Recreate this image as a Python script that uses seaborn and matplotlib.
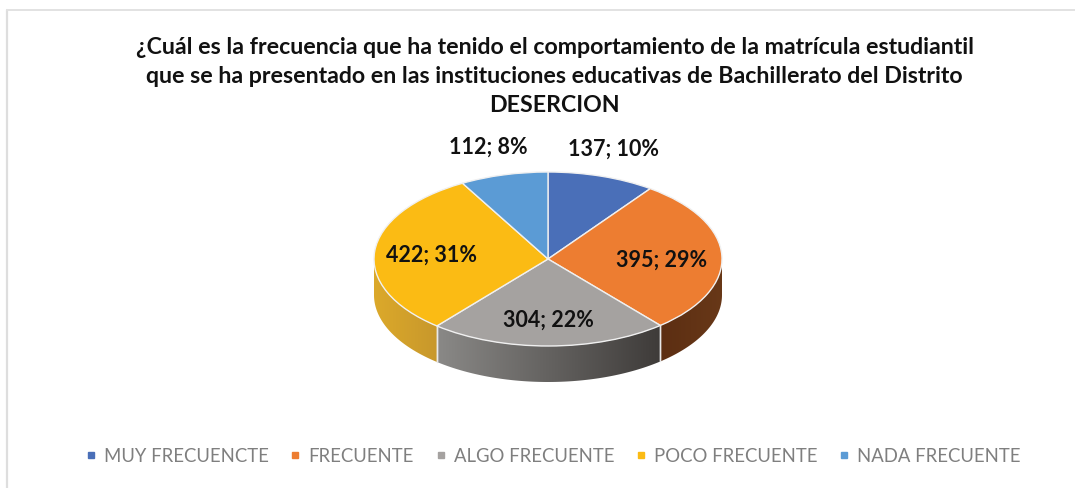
import numpy as np
import seaborn as sns
import matplotlib.pyplot as plt
from matplotlib.lines import Line2D
from matplotlib.patches import Polygon
from matplotlib.colors import to_rgb

categories = ['MUY FRECUENCTE', 'FRECUENTE', 'ALGO FRECUENTE', 'POCO FRECUENTE', 'NADA FRECUENTE']
values = [137, 395, 304, 422, 112]
colors = ['#4A6FB8', '#ED7D31', '#A5A2A0', '#FBBB14', '#5B9BD5']
title_lines = ['¿Cuál es la frecuencia que ha tenido el comportamiento de la matrícula estudiantil',
               'que se ha presentado en las instituciones educativas de Bachillerato del Distrito',
               'DESERCION']

# side wall colours, left and right end of the gradient
side_colors = {1: ('#5C2E12', '#683818'), 2: ('#8A8987', '#3E3B39'), 3: ('#DCA92A', '#C8982C')}

W, H = 1075, 488
sns.set_theme(style='white')
plt.rcParams['font.family'] = ['Lato', 'DejaVu Sans']

fig = plt.figure(figsize=(W / 100, H / 100), dpi=100)

# pie top is an ellipse 348 x 174 px, 36 px thick
rx, ry, depth = 174, 87, 36
cx, cy = 548, 259
ax = fig.add_axes([(cx - rx) / W, 1 - (cy + ry + depth) / H, 2 * rx / W, (2 * ry + depth) / H])

wedges, _ = ax.pie(values, colors=colors, startangle=90, counterclock=False,
                   wedgeprops={'edgecolor': '#F0F0F0', 'linewidth': 1, 'clip_on': False, 'zorder': 3})
ax.set_aspect('auto')
d = depth / ry

# side wall, only the front half of the rim shows
total = sum(values)
edges = np.cumsum([0] + values) / total * 360
for i, (left, right) in side_colors.items():
    a0 = max(edges[i], 90)
    a1 = min(edges[i + 1], 270)
    ang = np.radians(np.linspace(a0, a1, 120))
    xs = np.sin(ang)
    ys = np.cos(ang)
    outline = np.vstack([np.column_stack([xs, ys]), np.column_stack([xs[::-1], ys[::-1] - d])])
    grad = np.linspace(to_rgb(left), to_rgb(right), 256)[np.newaxis, :, :]
    im = ax.imshow(grad, extent=(min(xs), max(xs), -1 - d, 1), aspect='auto', zorder=1)
    im.set_clip_path(Polygon(outline, transform=ax.transData))
    for e in [a0, a1]:
        if 90 < e < 270:
            ex, ey = np.sin(np.radians(e)), np.cos(np.radians(e))
            ax.plot([ex, ex], [ey - d, ey], color='#E8E8E8', lw=1, zorder=2)

ax.set_xlim(-1, 1)
ax.set_ylim(-1 - d, 1)

for t, y in zip(title_lines, [47, 76, 105]):
    fig.text(554.5 / W, 1 - y / H, t, ha='center', va='center', fontsize=16.65, fontweight='bold', color='#111111')

# data labels
label_pos = [(614, 149), (662, 260), (548, 320), (431, 255), (488, 147)]
for v, (x, y) in zip(values, label_pos):
    fig.text(x / W, 1 - y / H, f'{v}; {v / total * 100:.0f}%', ha='center', va='center',
             fontsize=15.5, fontweight='bold', color='#111111')

handles = [Line2D([], [], marker='s', ls='', color=c, markersize=4.6) for c in colors]
fig.legend(handles, categories, ncol=5, loc='center', bbox_to_anchor=(551 / W, 1 - 456 / H), frameon=False,
           fontsize=13.35, labelcolor='#7F7F7F', handletextpad=0.2, columnspacing=0.95, handlelength=1.0)

# chart frame, only top and left show in the picture
fig.add_artist(Line2D([6.5 / W, 6.5 / W], [1 - 10 / H, 0], color='#DEDEDE', lw=1.6))
fig.add_artist(Line2D([6.5 / W, 1], [1 - 10 / H, 1 - 10 / H], color='#E2E2E2', lw=1.4))

fig.savefig('out.png', dpi=100)
plt.close()
